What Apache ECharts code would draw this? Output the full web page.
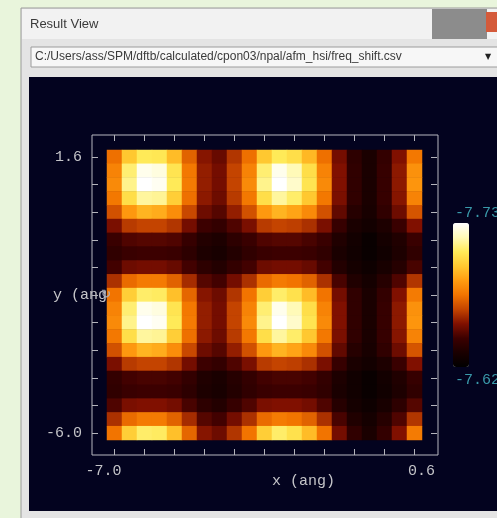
<!DOCTYPE html>
<html><head><meta charset="utf-8">
<script src="https://cdn.jsdelivr.net/npm/echarts@6/dist/echarts.min.js"></script>
<style>html,body{margin:0;padding:0;background:#e9f5dc;}#c{width:497px;height:518px;}</style>
</head><body><div id="c"></div>
<script>
// x (ang) categories, left -> right
const xValues = ['-7.00','-6.62','-6.24','-5.86','-5.48','-5.10','-4.72','-4.34','-3.96','-3.58','-3.20','-2.82','-2.44','-2.06','-1.68','-1.30','-0.92','-0.54','-0.16','0.22','0.60'];
// y (ang) categories, bottom -> top
const yValues = ['-6.00','-5.62','-5.24','-4.86','-4.48','-4.10','-3.72','-3.34','-2.96','-2.58','-2.20','-1.82','-1.44','-1.06','-0.68','-0.30','0.08','0.46','0.84','1.22','1.60'];
const xTickLabels = ['-7.0', '0.6'];
const yTickLabels = ['-6.0', '1.6'];
const colorbarLabels = ['-7.73', '-7.62'];
const freqMin = -7.73, freqMax = -7.62;
// frequency shift, rows from top (y = 1.6) to bottom (y = -6.0), columns left -> right
const freqShift = [
[-7.674,-7.697,-7.708,-7.707,-7.694,-7.671,-7.654,-7.649,-7.661,-7.674,-7.697,-7.708,-7.704,-7.693,-7.674,-7.651,-7.637,-7.631,-7.639,-7.653,-7.676],
[-7.679,-7.711,-7.727,-7.725,-7.706,-7.676,-7.656,-7.651,-7.664,-7.679,-7.711,-7.727,-7.719,-7.704,-7.679,-7.653,-7.638,-7.631,-7.640,-7.655,-7.683],
[-7.681,-7.714,-7.730,-7.728,-7.708,-7.677,-7.656,-7.651,-7.664,-7.681,-7.714,-7.730,-7.722,-7.706,-7.681,-7.653,-7.638,-7.631,-7.640,-7.655,-7.684],
[-7.676,-7.704,-7.716,-7.715,-7.699,-7.674,-7.655,-7.650,-7.662,-7.676,-7.704,-7.716,-7.710,-7.697,-7.676,-7.652,-7.638,-7.631,-7.640,-7.654,-7.679],
[-7.667,-7.685,-7.692,-7.690,-7.682,-7.665,-7.650,-7.646,-7.656,-7.667,-7.685,-7.692,-7.688,-7.681,-7.667,-7.648,-7.635,-7.630,-7.638,-7.650,-7.668],
[-7.652,-7.662,-7.664,-7.664,-7.661,-7.651,-7.642,-7.639,-7.645,-7.652,-7.662,-7.664,-7.663,-7.660,-7.652,-7.640,-7.631,-7.628,-7.632,-7.641,-7.653],
[-7.641,-7.645,-7.646,-7.646,-7.645,-7.640,-7.634,-7.632,-7.637,-7.641,-7.645,-7.646,-7.646,-7.644,-7.641,-7.633,-7.628,-7.624,-7.629,-7.633,-7.641],
[-7.638,-7.641,-7.642,-7.642,-7.641,-7.637,-7.632,-7.630,-7.634,-7.638,-7.641,-7.642,-7.642,-7.641,-7.638,-7.631,-7.627,-7.624,-7.627,-7.632,-7.638],
[-7.643,-7.650,-7.651,-7.651,-7.649,-7.643,-7.637,-7.634,-7.639,-7.643,-7.650,-7.651,-7.651,-7.649,-7.643,-7.634,-7.629,-7.626,-7.630,-7.635,-7.644],
[-7.660,-7.673,-7.677,-7.677,-7.671,-7.659,-7.646,-7.643,-7.651,-7.660,-7.673,-7.677,-7.675,-7.671,-7.660,-7.644,-7.633,-7.629,-7.635,-7.645,-7.661],
[-7.675,-7.699,-7.710,-7.709,-7.695,-7.672,-7.654,-7.650,-7.661,-7.675,-7.699,-7.710,-7.705,-7.694,-7.675,-7.651,-7.638,-7.631,-7.639,-7.653,-7.677],
[-7.679,-7.711,-7.727,-7.725,-7.706,-7.676,-7.656,-7.651,-7.664,-7.679,-7.711,-7.727,-7.719,-7.704,-7.679,-7.653,-7.638,-7.631,-7.640,-7.655,-7.683],
[-7.681,-7.714,-7.730,-7.728,-7.708,-7.677,-7.656,-7.651,-7.664,-7.681,-7.714,-7.730,-7.722,-7.706,-7.681,-7.653,-7.638,-7.631,-7.640,-7.655,-7.684],
[-7.676,-7.704,-7.716,-7.715,-7.699,-7.674,-7.655,-7.650,-7.662,-7.676,-7.704,-7.716,-7.710,-7.697,-7.676,-7.652,-7.638,-7.631,-7.640,-7.654,-7.679],
[-7.667,-7.685,-7.692,-7.690,-7.682,-7.665,-7.650,-7.646,-7.656,-7.667,-7.685,-7.692,-7.688,-7.681,-7.667,-7.648,-7.635,-7.630,-7.638,-7.650,-7.668],
[-7.652,-7.662,-7.664,-7.664,-7.661,-7.651,-7.642,-7.639,-7.645,-7.652,-7.662,-7.664,-7.663,-7.660,-7.652,-7.640,-7.631,-7.628,-7.632,-7.641,-7.653],
[-7.639,-7.643,-7.644,-7.644,-7.643,-7.639,-7.633,-7.631,-7.635,-7.639,-7.643,-7.644,-7.644,-7.643,-7.639,-7.632,-7.627,-7.624,-7.628,-7.633,-7.640],
[-7.638,-7.641,-7.642,-7.642,-7.641,-7.637,-7.632,-7.630,-7.634,-7.638,-7.641,-7.642,-7.642,-7.641,-7.638,-7.631,-7.627,-7.624,-7.627,-7.632,-7.638],
[-7.645,-7.652,-7.653,-7.653,-7.651,-7.644,-7.637,-7.634,-7.640,-7.645,-7.652,-7.653,-7.653,-7.651,-7.645,-7.635,-7.629,-7.626,-7.630,-7.637,-7.646],
[-7.660,-7.673,-7.677,-7.677,-7.671,-7.659,-7.646,-7.643,-7.651,-7.660,-7.673,-7.677,-7.675,-7.671,-7.660,-7.644,-7.633,-7.629,-7.635,-7.645,-7.661],
[-7.675,-7.699,-7.710,-7.709,-7.695,-7.672,-7.654,-7.650,-7.661,-7.675,-7.699,-7.710,-7.705,-7.694,-7.675,-7.651,-7.638,-7.631,-7.639,-7.653,-7.677]
];
const filePath = 'C:/Users/ass/SPM/dftb/calculated/cpon03/npal/afm_hsi/freq_shift.csv';

const data = [];
const nRows = freqShift.length;
for (let r = 0; r < nRows; r++) {
  for (let c = 0; c < freqShift[r].length; c++) {
    data.push([c, nRows - 1 - r, freqShift[r][c]]);
  }
}

const mono = '"Liberation Mono", "DejaVu Sans Mono", monospace';
const tickColor = '#b4b4bc';
const labelColor = '#c4c4c8';
const lastX = xValues.length - 1, lastY = yValues.length - 1;

function catAxis(dim, pos, cats, showLabels) {
  const isX = dim === 'x';
  const ax = {
    type: 'category', data: cats, gridIndex: 0, position: pos, offset: 15,
    axisLine: { show: false },
    axisTick: { show: true, inside: true, length: 6, alignWithLabel: true, interval: 1,
      lineStyle: { color: tickColor, width: 1 } },
    splitLine: { show: false },
    axisLabel: { show: false }
  };
  if (showLabels) {
    if (isX) {
      ax.axisLabel = {
        show: true, margin: 9, color: labelColor, fontFamily: mono, fontSize: 15,
        interval: (i) => i === 0 || i === lastX,
        formatter: (v, i) => i === 0 ? '{l|' + xTickLabels[0] + '}' : '{r|' + xTickLabels[1] + '}',
        rich: {
          l: { color: labelColor, fontFamily: mono, fontSize: 15, padding: [0, 22, 0, 0] },
          r: { color: labelColor, fontFamily: mono, fontSize: 15, padding: [0, 0, 0, 14] }
        }
      };
    } else {
      ax.axisLabel = {
        show: true, margin: 10, color: labelColor, fontFamily: mono, fontSize: 15,
        interval: (i) => i === 0 || i === lastY,
        formatter: (v, i) => i === 0 ? yTickLabels[0] : yTickLabels[1]
      };
    }
  }
  return ax;
}

const chart = echarts.init(document.getElementById('c'), null, { renderer: 'canvas' });
chart.setOption({
  backgroundColor: '#e9f5dc',
  animation: false,
  graphic: [
    // window chrome
    { type: 'rect', z: -10, shape: { x: 21, y: 8, width: 480, height: 515 }, style: { fill: '#e4e4e4', stroke: '#9a9a9a', lineWidth: 1 } },
    { type: 'rect', z: -9, shape: { x: 22, y: 9, width: 478, height: 30 }, style: { fill: '#f2f2f2' } },
    { type: 'rect', z: -9, shape: { x: 432, y: 9, width: 55, height: 30 }, style: { fill: '#8c8c8c' } },
    { type: 'rect', z: -8, shape: { x: 486, y: 12, width: 14, height: 20 }, style: { fill: '#d45a3a' } },
    { type: 'text', z: -8, style: { x: 30, y: 24, text: 'Result View', fill: '#3a3a3a', font: '13px "Liberation Sans", Arial, sans-serif', textVerticalAlign: 'middle' } },
    { type: 'rect', z: -8, shape: { x: 31, y: 47, width: 470, height: 20 }, style: { fill: '#f7f7f7', stroke: '#9c9c9c', lineWidth: 1 } },
    { type: 'text', z: -7, style: { x: 35, y: 57, text: filePath, fill: '#3a3a3a', font: '12px "Liberation Sans", Arial, sans-serif', textVerticalAlign: 'middle' } },
    { type: 'text', z: -7, style: { x: 485, y: 57, text: '▼', fill: '#222', font: '8px "DejaVu Sans", sans-serif', textVerticalAlign: 'middle' } },
    { type: 'rect', z: -6, shape: { x: 29, y: 77, width: 470, height: 434 }, style: { fill: '#03031f' } },
    // axis titles and colorbar labels
    { type: 'text', z: -5, style: { x: 53, y: 295, text: 'y (ang)', fill: labelColor, font: '15px ' + mono, textVerticalAlign: 'middle' } },
    { type: 'text', z: -5, style: { x: 272, y: 481, text: 'x (ang)', fill: labelColor, font: '15px ' + mono, textVerticalAlign: 'middle' } },
    { type: 'text', z: -5, style: { x: 455, y: 213, text: colorbarLabels[0], fill: '#3a9aaa', font: '15px ' + mono, textVerticalAlign: 'middle' } },
    { type: 'text', z: -5, style: { x: 455, y: 380, text: colorbarLabels[1], fill: '#3a9aaa', font: '15px ' + mono, textVerticalAlign: 'middle' } },
    // small refresh icon over the plot
    { type: 'text', z: 50, style: { x: 101, y: 295, text: '↻', fill: '#b0b4c0', opacity: 0.8, font: 'bold 12px "DejaVu Sans", sans-serif', textVerticalAlign: 'middle' } }
  ],
  grid: [
    { left: 107, top: 150, width: 315, height: 290, show: false },
    { left: 92, top: 135, width: 346, height: 320, show: true, borderColor: '#b8b8c0', borderWidth: 1, backgroundColor: 'transparent' }
  ],
  xAxis: [
    catAxis('x', 'bottom', xValues, true),
    catAxis('x', 'top', xValues, false),
    { type: 'value', gridIndex: 1, show: false }
  ],
  yAxis: [
    catAxis('y', 'left', yValues, true),
    catAxis('y', 'right', yValues, false),
    { type: 'value', gridIndex: 1, show: false }
  ],
  visualMap: {
    type: 'continuous', min: freqMin, max: freqMax, calculable: false, inverse: true,
    orient: 'vertical', left: 448, top: 218, padding: 5, itemWidth: 16, itemHeight: 144,
    text: ['', ''], showLabel: false, hoverLink: false, seriesIndex: 0,
    inRange: { color: ['#ffffff', '#fffab8', '#ffea58', '#ffc830', '#ff9c10', '#f27400', '#c44400', '#801000', '#3c0000', '#1a0000', '#000000'] }
  },
  series: [{
    type: 'heatmap', xAxisIndex: 0, yAxisIndex: 0, data: data, z: 5,
    itemStyle: { borderWidth: 0 }, emphasis: { disabled: true }
  }]
});
</script></body></html>
